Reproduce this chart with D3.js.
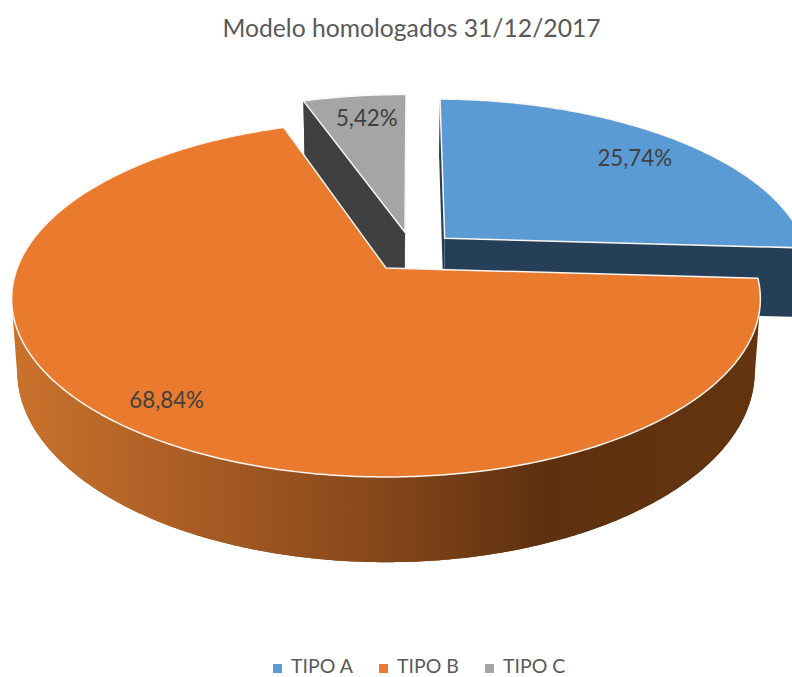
<!DOCTYPE html>
<html><head><meta charset="utf-8">
<script src="https://cdn.jsdelivr.net/npm/d3@7"></script>
<style>html,body{margin:0;padding:0;background:#fff;overflow:hidden}svg{display:block}text{font-family:Lato,"Open Sans",sans-serif}</style>
</head><body><svg id="c" width="792" height="677"></svg>
<script>
const title = "Modelo homologados 31/12/2017";
const categories = ["TIPO A","TIPO B","TIPO C"];
const values = [25.74,68.84,5.42];
const labels = ["25,74%","68,84%","5,42%"];
const topColors = ["#5B9BD5","#E97A2E","#A5A5A5"];
const cutColors = ["#243F57","#7A3F15","#404040"];
const explodeX = [0.164,0,0.0534];
const explodeZ = [0.1768,0,0.2146];
const labelRadius = [0.81,0.86,0.81];
const labelNudgeX = [1,-1.5,4];
const labelNudgeY = [2,-1.5,0];

const W=792,H=677, cx=386, cy=268, R=368.7, K=172.8, a=0.173, depth=70.5, shrink=0.985;
const rotation = 0.7*Math.PI/180;
const svg=d3.select("#c");
const defs=svg.append("defs");
const grad=defs.append("linearGradient").attr("id","wall").attr("gradientUnits","userSpaceOnUse")
  .attr("x1",14).attr("x2",750).attr("y1",0).attr("y2",0);
[[0,"#C9722C"],[0.25,"#A85C24"],[0.5,"#85471A"],[0.72,"#5E3010"],[1,"#63340F"]]
  .forEach(s=>grad.append("stop").attr("offset",s[0]).attr("stop-color",s[1]));

const px=d3.scaleLinear().domain([0,1]).range([0,R]);
const py=d3.scaleLinear().domain([0,1]).range([0,K]);
function project(r,th,i,low){
  const X=explodeX[i]+r*Math.sin(th), Z=explodeZ[i]+r*Math.cos(th);
  const s=1/(1+a*Z);
  let x=px(X)*s, y=-py(Z)*s;
  if(low){ x*=shrink; y+=depth*s; }
  return [cx+x, cy+y];
}
const line=d3.line();
const pie=d3.pie().sort(null).startAngle(rotation).endAngle(rotation+2*Math.PI);
const arcs=pie(values);
const angles=d=>{
  const n=Math.ceil((d.endAngle-d.startAngle)/0.01);
  return d3.range(n+1).map(k=>d.startAngle+(d.endAngle-d.startAngle)*k/n);
};
const order=[2,0,1];
order.forEach(i=>{
  const d=arcs[i], g=svg.append("g"), th=angles(d);
  const apexT=project(0,0,i,false), apexB=project(0,0,i,true);
  const topRim=th.map(t=>project(1,t,i,false)), lowRim=th.map(t=>project(1,t,i,true));
  const cutFill = cutColors[i];
  [[topRim[0],lowRim[0]],[topRim[topRim.length-1],lowRim[lowRim.length-1]]].forEach(p=>{
    g.append("path").attr("d",line([apexT,p[0],p[1],apexB])+"Z").attr("fill",cutFill);
  });
  const wallPaint = i===1?"url(#wall)":cutFill;
  g.append("path").attr("d",line(topRim.concat(lowRim.slice().reverse()))+"Z").attr("fill",wallPaint);
  const front=th.filter(t=>Math.cos(t)<=0);
  if(front.length>2){
    const hull=d3.polygonHull(front.map(t=>project(1,t,i,false)).concat(front.map(t=>project(1,t,i,true))));
    g.append("path").attr("d",line(hull)+"Z").attr("fill",wallPaint);
  }
  g.append("path").attr("d",line([apexT].concat(topRim))+"Z")
    .attr("fill",topColors[i]).attr("stroke","#FBF6F0").attr("stroke-width",1.5).attr("stroke-linejoin","round");
});
arcs.forEach((d,i)=>{
  const p=project(labelRadius[i],(d.startAngle+d.endAngle)/2,i,false);
  svg.append("text").attr("x",p[0]+labelNudgeX[i]).attr("y",p[1]+7.5+labelNudgeY[i]).attr("text-anchor","middle")
    .attr("font-size",22.3).attr("fill","#404040").text(labels[i]);
});
svg.append("text").attr("x",411.5).attr("y",36.5).attr("text-anchor","middle")
  .attr("font-size",24.7).attr("fill","#595959").text(title);
const lx=d3.scalePoint().domain(categories).range([273,485]);
categories.forEach((c,i)=>{
  svg.append("rect").attr("x",lx(c)).attr("y",664).attr("width",9).attr("height",9).attr("fill",topColors[i]);
  svg.append("text").attr("x",lx(c)+18).attr("y",673).attr("font-size",19.5).attr("fill","#595959").text(c);
});
</script></body></html>
